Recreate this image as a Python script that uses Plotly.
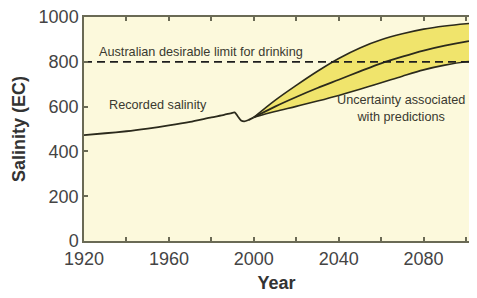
import plotly.graph_objects as go

# Recorded salinity
rec_years = [1920, 1930, 1940, 1950, 1960, 1970, 1980, 1986, 1989, 1991, 1992.5, 1994, 1995.5, 1997.5, 2000]
rec_vals = [473, 481, 490, 502, 516, 532, 552, 563, 570, 574, 556, 538, 534, 540, 552]

# Predictions
pred_years = [2000, 2010, 2020, 2030, 2040, 2050, 2060, 2070, 2080, 2090, 2100, 2101.4]
pred_upper = [552, 628, 695, 758, 815, 862, 898, 925, 946, 960, 970, 971]
pred_mid = [552, 600, 643, 683, 720, 757, 793, 823, 850, 872, 890, 892]
pred_lower = [552, 578, 601, 625, 650, 677, 706, 736, 764, 785, 800, 801]

limit_value = 800
x_tickvals = [1920, 1940, 1960, 1980, 2000, 2020, 2040, 2060, 2080, 2100]
x_ticktext = ["1920", "", "1960", "", "2000", "", "2040", "", "2080", ""]
y_tickvals = [0, 200, 400, 600, 800, 1000]

LINE = "#2b2a1c"
AXIS = "#6a6a55"
FILL = "#f0e46c"

fig = go.Figure()
fig.add_trace(go.Scatter(x=pred_years, y=pred_lower, mode="lines",
                         line=dict(color=LINE, width=1.6, shape="spline"),
                         hoverinfo="skip", showlegend=False))
fig.add_trace(go.Scatter(x=pred_years, y=pred_upper, mode="lines",
                         line=dict(color=LINE, width=1.6, shape="spline"),
                         fill="tonexty", fillcolor=FILL,
                         hoverinfo="skip", showlegend=False))
fig.add_trace(go.Scatter(x=pred_years, y=pred_mid, mode="lines",
                         line=dict(color=LINE, width=1.8, shape="spline"),
                         showlegend=False))
fig.add_trace(go.Scatter(x=rec_years, y=rec_vals, mode="lines",
                         line=dict(color=LINE, width=1.8, shape="spline", smoothing=0.6),
                         showlegend=False))
fig.add_trace(go.Scatter(x=[1920, 2101.4], y=[limit_value, limit_value], mode="lines",
                         line=dict(color="#1e1e1e", width=1.8, dash="8px,5px"),
                         showlegend=False))

txt = dict(family="Arial, Liberation Sans, sans-serif", size=12.7, color="#3a3a30")
fig.add_annotation(x=1926, y=843, text="Australian desirable limit for drinking",
                   showarrow=False, xanchor="left", font=txt)
fig.add_annotation(x=1931, y=605, text="Recorded salinity",
                   showarrow=False, xanchor="left", font=txt)
fig.add_annotation(x=2069.5, y=590, text="Uncertainty associated<br>with predictions",
                   showarrow=False, xanchor="center", align="center", font=txt)

fig.update_layout(
    width=461, height=290,
    margin=dict(l=76, r=0, t=9, b=57),
    paper_bgcolor="white",
    plot_bgcolor="#fcf9dc",
    font=dict(family="Arial, Liberation Sans, sans-serif", color="#444444"),
    xaxis=dict(range=[1920, 2101.4], tickvals=x_tickvals, ticktext=x_ticktext,
               automargin=False, ticklabeloverflow="allow", ticklabelstandoff=1,
               ticks="inside", ticklen=4, tickcolor=AXIS, tickwidth=1.5,
               showline=True, linecolor=AXIS, linewidth=1.5, mirror="ticks",
               showgrid=False, zeroline=False,
               tickfont=dict(size=18, color="#444444"),
               title=dict(text="<b>Year</b>", font=dict(size=18, color="#333333"), standoff=8)),
    yaxis=dict(range=[0, 1000], tickvals=y_tickvals,
               automargin=False, ticklabeloverflow="allow",
               ticks="inside", ticklen=4, tickcolor=AXIS, tickwidth=1.5,
               showline=True, linecolor=AXIS, linewidth=1.5,
               showgrid=False, zeroline=False,
               tickfont=dict(size=18, color="#444444"),
               title=dict(text="<b>Salinity (EC)</b>", font=dict(size=18, color="#333333"), standoff=8)),
)

fig.write_html("out.html")
